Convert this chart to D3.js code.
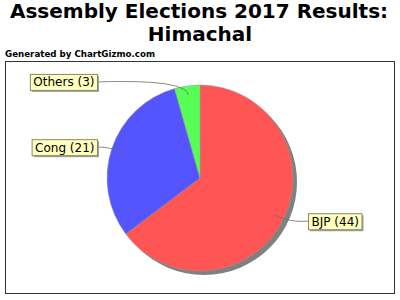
<!DOCTYPE html>
<html>
<head>
<meta charset="utf-8">
<script src="https://cdn.jsdelivr.net/npm/d3@7"></script>
<style>
  body { margin: 0; background: #fff; }
  text { font-family: "DejaVu Sans", sans-serif; }
</style>
</head>
<body>
<div id="chart"></div>
<script>
// chart data
const parties = ["BJP", "Cong", "Others"];
const seats = [44, 21, 3];
const partyColours = ["#ff5555", "#5555ff", "#55ff55"];

const width = 400, height = 300;

const svg = d3.select("#chart")
  .append("svg")
  .attr("width", width)
  .attr("height", height);

// Title
const title = svg.append("text")
  .attr("text-anchor", "middle")
  .attr("font-size", "20px")
  .attr("font-weight", "bold")
  .attr("fill", "#000");
title.append("tspan").attr("x", 199).attr("y", 18).text("Assembly Elections 2017 Results:");
title.append("tspan").attr("x", 200).attr("y", 41).text("Himachal");

svg.append("text")
  .attr("x", 5)
  .attr("y", 57)
  .attr("font-size", "8.7px")
  .attr("font-weight", "bold")
  .text("Generated by ChartGizmo.com");

// Plot frame
svg.append("rect")
  .attr("x", 5.5)
  .attr("y", 61.5)
  .attr("width", 389)
  .attr("height", 232)
  .attr("fill", "#fff")
  .attr("stroke", "#333")
  .attr("stroke-width", 1);

// Pie
const cx = 200, cy = 178, radius = 93;
const data = parties.map((p, i) => ({ party: p, value: seats[i], colour: partyColours[i] }));

const pie = d3.pie().sort(null).value(d => d.value);
const arc = d3.arc().innerRadius(0).outerRadius(radius);
const arcs = pie(data);

const pieG = svg.append("g").attr("transform", `translate(${cx},${cy})`);

// Shadow
pieG.append("circle")
  .attr("cx", 4)
  .attr("cy", 4)
  .attr("r", radius)
  .attr("fill", "#808080");

pieG.selectAll(".slice")
  .data(arcs)
  .enter()
  .append("path")
  .attr("class", "slice")
  .attr("d", arc)
  .attr("fill", d => d.data.colour)
  .attr("stroke", "#9a9a9a")
  .attr("stroke-width", 0.5);

// Labels with link curves
const labelG = svg.append("g");
arcs.forEach(d => {
  const mid = (d.startAngle + d.endAngle) / 2;
  const dx = Math.sin(mid), dy = -Math.cos(mid);
  const right = dx > 0;
  const ax = cx + dx * radius * 0.9, ay = cy + dy * radius * 0.9;
  const ex = cx + dx * (radius + 7), ey = cy + dy * (radius + 7);
  const ly = cy + dy * 97;
  const lx = right ? cx + radius + 15 : cx - radius - 10;

  const label = `${d.data.party} (${d.data.value})`;
  const tmp = labelG.append("text")
    .attr("font-size", "12px")
    .text(label);
  const tw = tmp.node().getComputedTextLength();
  tmp.remove();

  const bw = tw + 6, bh = 16;
  const bx = right ? lx : lx - bw;
  const by = ly - bh / 2;

  labelG.append("path")
    .attr("d", `M${ax},${ay} Q${ex},${ey} ${lx},${ly}`)
    .attr("fill", "none")
    .attr("stroke", "#6b6b6b")
    .attr("stroke-width", 0.8);

  labelG.append("rect")
    .attr("x", bx + 2)
    .attr("y", by + 2)
    .attr("width", bw)
    .attr("height", bh)
    .attr("fill", "#a0a0a0");

  labelG.append("rect")
    .attr("x", bx + 0.5)
    .attr("y", by + 0.5)
    .attr("width", bw)
    .attr("height", bh)
    .attr("fill", "#ffffc0")
    .attr("stroke", "#8a8a60")
    .attr("stroke-width", 1);

  labelG.append("text")
    .attr("x", bx + 3.5)
    .attr("y", by + 12.5)
    .attr("font-size", "12px")
    .attr("fill", "#000")
    .text(label);
});
</script>
</body>
</html>
